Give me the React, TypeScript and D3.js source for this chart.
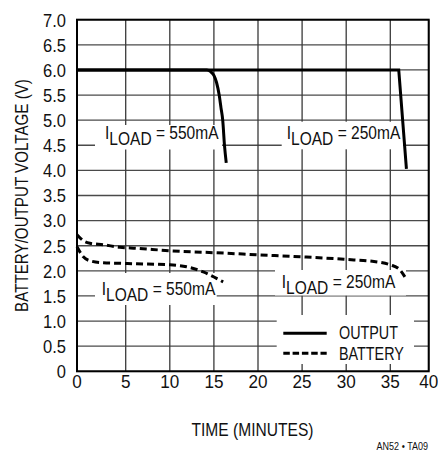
import React from "react";
import * as d3 from "d3";

// ---- data (minutes, volts) ----
const output550Time = [0, 14.2, 14.6, 15.0, 15.3, 15.6, 15.8, 16.0, 16.2, 16.4];
const output550Volt = [6.0, 6.0, 5.97, 5.89, 5.75, 5.5, 5.25, 5.0, 4.5, 4.15];
const output250Time = [0, 36.1, 37.1];
const output250Volt = [6.0, 6.0, 4.03];
const battery250Time = [0, 0.65, 1.33, 2.7, 4.4, 6.25, 10, 13.8, 16.45, 19.8, 24.8, 29.75, 33.8, 35, 36.25, 36.9];
const battery250Volt = [2.72, 2.6, 2.55, 2.52, 2.47, 2.45, 2.4, 2.37, 2.35, 2.32, 2.28, 2.23, 2.17, 2.12, 2.02, 1.88];
const battery550Time = [0, 0.65, 1.33, 2.7, 4.4, 6.25, 10, 11.9, 13.8, 15.3, 16.05];
const battery550Volt = [2.48, 2.28, 2.2, 2.16, 2.15, 2.14, 2.12, 2.08, 1.98, 1.85, 1.78];

const xTicks = [0, 5, 10, 15, 20, 25, 30, 35, 40];
const yTicks = [0, 0.5, 1, 1.5, 2, 2.5, 3, 3.5, 4, 4.5, 5, 5.5, 6, 6.5, 7];
const yTickLabels = ["0", "0.5", "1.0", "1.5", "2.0", "2.5", "3.0", "3.5", "4.0", "4.5", "5.0", "5.5", "6.0", "6.5", "7.0"];
const legendLabels = ["OUTPUT", "BATTERY"];
const loadLabels = ["550mA", "250mA", "550mA", "250mA"];

const W = 438;
const H = 451;
const L = 77;
const R = 428.7;
const T = 19.7;
const B = 371.3;

const FONT = "'Liberation Sans', Arial, Helvetica, sans-serif";
const SX = 0.82; // horizontal condensing to mimic a narrow typeface

type NProps = {
  x: number;
  y: number;
  size: number;
  anchor?: "start" | "middle" | "end";
  rotate?: number;
  dy?: string;
  sx?: number;
  children?: React.ReactNode;
};

function NText({ x, y, size, anchor = "start", rotate = 0, dy, sx = SX, children }: NProps) {
  return (
    <text
      transform={`translate(${x},${y}) rotate(${rotate}) scale(${sx},1)`}
      textAnchor={anchor}
      fontSize={size}
      dy={dy}
      fill="#111"
      style={{ whiteSpace: "pre" }}
    >
      {children}
    </text>
  );
}

export default function App() {
  // the original grid is slightly uneven: edge columns differ from the interior ones
  const x = d3.scaleLinear().domain([0, 5, 35, 40]).range([L, 125.7, 390.3, R]);
  const y = d3.scaleLinear().domain([0, 7]).range([B, T]);

  const line = d3
    .line<[number, number]>()
    .x((d) => x(d[0]))
    .y((d) => y(d[1]))
    .curve(d3.curveMonotoneX);
  const lin = d3
    .line<[number, number]>()
    .x((d) => x(d[0]))
    .y((d) => y(d[1]));

  const zip = (a: number[], b: number[]) => a.map((v, i) => [v, b[i]] as [number, number]);

  // white label boxes (interrupt grid lines)
  const boxes = [
    { x0: 95, y0: 125, x1: 222, y1: 149.5 },
    { x0: 281.7, y0: 121.7, x1: 403, y1: 149.3 },
    { x0: 95, y0: 273, x1: 216.7, y1: 305 },
    { x0: 275, y0: 270, x1: 406, y1: 295.5 },
    { x0: 276.7, y0: 315, x1: 414, y1: 364 },
  ];
  const labelPos = [
    { x: 105, y: 139.3 },
    { x: 286.7, y: 139.3 },
    { x: 101.7, y: 295 },
    { x: 281.7, y: 288.3 },
  ];

  return (
    <svg
      width={W}
      height={H}
      style={{ position: "absolute", left: 0, top: 0, background: "#fff" }}
      fontFamily={FONT}
    >
      <rect x={0} y={0} width={W} height={H} fill="#fff" />
      {/* grid */}
      {yTicks.map((t) => (
        <line key={"gy" + t} x1={L} x2={R} y1={y(t)} y2={y(t)} stroke="#4a4a4a" strokeWidth={1.3} />
      ))}
      {xTicks.map((t) => (
        <line key={"gx" + t} x1={x(t)} x2={x(t)} y1={T} y2={B} stroke="#3a3a3a" strokeWidth={1.3} />
      ))}
      {boxes.map((b, i) => (
        <rect key={"b" + i} x={b.x0} y={b.y0} width={b.x1 - b.x0} height={b.y1 - b.y0} fill="#fff" />
      ))}
      <rect x={L} y={T} width={R - L} height={B - T} fill="none" stroke="#000" strokeWidth={2} />

      {/* curves */}
      <path d={line(zip(output550Time, output550Volt)) || ""} fill="none" stroke="#000" strokeWidth={3} />
      <path d={lin(zip(output250Time, output250Volt)) || ""} fill="none" stroke="#000" strokeWidth={3} />
      <path
        d={line(zip(battery250Time, battery250Volt)) || ""}
        fill="none"
        stroke="#000"
        strokeWidth={3}
        strokeDasharray="7,4"
      />
      <path
        d={line(zip(battery550Time, battery550Volt)) || ""}
        fill="none"
        stroke="#000"
        strokeWidth={3}
        strokeDasharray="7,4"
      />

      {/* load labels */}
      {labelPos.map((p, i) => (
        <NText key={"l" + i} x={p.x} y={p.y} size={18.5} sx={0.84}>
          I<tspan dy={6}>LOAD</tspan>
          <tspan dy={-6}>{" = " + loadLabels[i]}</tspan>
        </NText>
      ))}

      {/* legend */}
      <line x1={283.3} x2={326.7} y1={333.3} y2={333.3} stroke="#000" strokeWidth={3} />
      <line x1={283.3} x2={326.7} y1={353.3} y2={353.3} stroke="#000" strokeWidth={3} strokeDasharray="6.5,2.8" />
      <NText x={339} y={338.5} size={17.5}>
        {legendLabels[0]}
      </NText>
      <NText x={339} y={360} size={17.5}>
        {legendLabels[1]}
      </NText>

      {/* y tick labels */}
      {yTicks.map((t, i) => (
        <NText key={"yl" + t} x={66} y={y(t)} dy="0.36em" anchor="end" size={19} sx={0.87}>
          {yTickLabels[i]}
        </NText>
      ))}
      {/* x tick labels */}
      {xTicks.map((t) => (
        <NText key={"xl" + t} x={x(t)} y={388} anchor="middle" size={19} sx={0.9}>
          {String(t)}
        </NText>
      ))}

      {/* axis titles */}
      <NText x={252.5} y={436} anchor="middle" size={19}>
        TIME (MINUTES)
      </NText>
      <NText x={27.5} y={(T + B) / 2} anchor="middle" rotate={-90} size={18.5}>
        BATTERY/OUTPUT VOLTAGE (V)
      </NText>
      <NText x={428} y={450} anchor="end" size={11}>
        AN52 • TA09
      </NText>
    </svg>
  );
}
